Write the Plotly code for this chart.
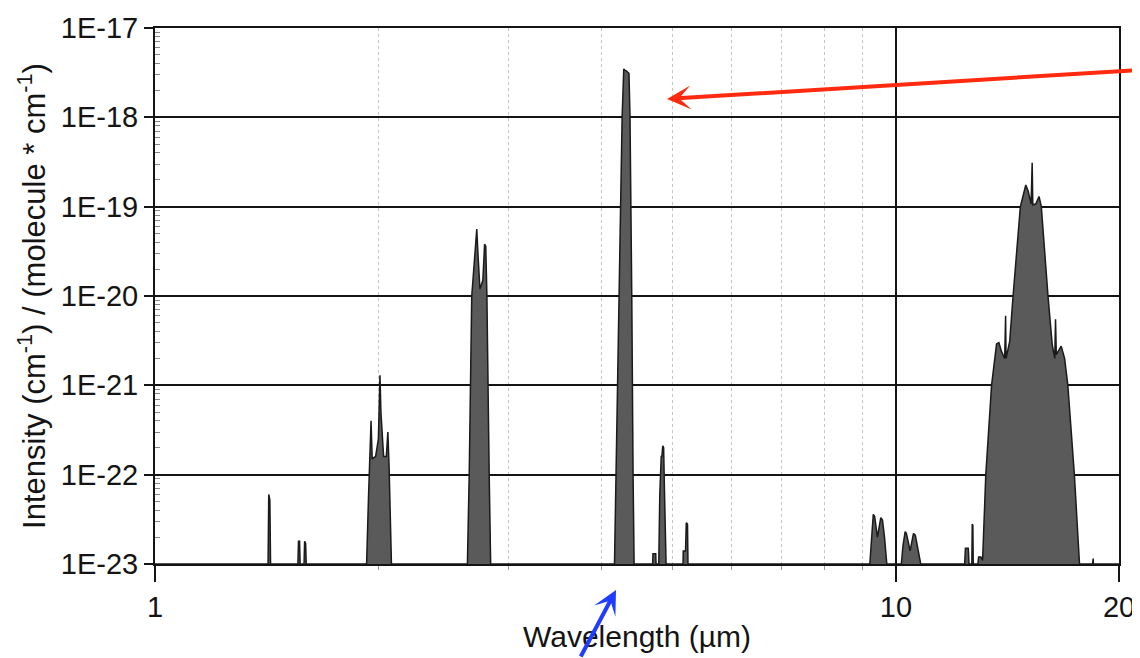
import plotly.graph_objects as go
import math

# ---------------- data (wavelength in µm, line intensity) ----------------
b143_wl = [1.421, 1.424, 1.429, 1.432]
b143_int = [1e-23, 6e-23, 5.2e-23, 1e-23]

b16_wl = [1.559, 1.562, 1.567, 1.570, 1.589, 1.592, 1.597, 1.600]
b16_int = [1e-23, 1.8e-23, 1.8e-23, 1e-23, 1e-23, 1.8e-23, 1.7e-23, 1e-23]

b20_wl = [1.930, 1.942, 1.950, 1.957, 1.964, 1.985, 2.002, 2.008, 2.012, 2.018,
          2.035, 2.052, 2.062, 2.070, 2.078, 2.085]
b20_int = [1e-23, 6e-23, 1.5e-22, 4e-22, 1.5e-22, 1.6e-22, 2.5e-22, 7e-22, 1.3e-21, 5e-22,
           1.6e-22, 1.6e-22, 3e-22, 1.2e-22, 4e-23, 1e-23]

b27_wl = [2.640, 2.655, 2.676, 2.705, 2.718, 2.728, 2.745, 2.770, 2.785, 2.795, 2.805, 2.825, 2.838]
b27_int = [1e-23, 1e-22, 1e-20, 4e-20, 5.6e-20, 3e-20, 1.2e-20, 1.5e-20, 3.8e-20, 3.6e-20, 1e-20, 1e-22, 1e-23]

b43_wl = [4.170, 4.190, 4.230, 4.244, 4.270, 4.292, 4.300, 4.330, 4.362, 4.376, 4.390, 4.400, 4.418, 4.432]
b43_int = [1e-23, 1e-22, 1e-20, 1e-19, 1e-18, 3.5e-18, 3.4e-18, 3.3e-18, 3.1e-18, 1e-18, 1e-19, 1e-20, 1e-22, 1e-23]

b47_wl = [4.695, 4.700, 4.740, 4.745]
b47_int = [1e-23, 1.3e-23, 1.3e-23, 1e-23]

b48_wl = [4.785, 4.800, 4.822, 4.832, 4.845, 4.858, 4.870, 4.895]
b48_int = [1e-23, 6e-23, 1.6e-22, 1.6e-22, 2.1e-22, 2e-22, 7e-23, 1e-23]

b52_wl = [5.160, 5.163, 5.200, 5.212, 5.232, 5.240]
b52_int = [1e-23, 1.4e-23, 1.4e-23, 2.9e-23, 2.8e-23, 1e-23]

b94_wl = [9.22, 9.27, 9.32, 9.36, 9.44, 9.54, 9.59, 9.65, 9.72]
b94_int = [1e-23, 2e-23, 3.6e-23, 3.4e-23, 2e-23, 3.3e-23, 3.1e-23, 2e-23, 1e-23]

b104_wl = [10.17, 10.22, 10.29, 10.33, 10.45, 10.56, 10.62, 10.70, 10.80]
b104_int = [1e-23, 1.6e-23, 2.3e-23, 2.2e-23, 1.4e-23, 2.2e-23, 2.1e-23, 1.5e-23, 1e-23]

b124_wl = [12.38, 12.41, 12.52, 12.55, 12.66, 12.675, 12.70, 12.715]
b124_int = [1e-23, 1.5e-23, 1.5e-23, 1e-23, 1e-23, 2.8e-23, 2.7e-23, 1e-23]

b15_wl = [12.90, 12.93, 13.02, 13.09, 13.22, 13.46, 13.67, 13.77, 13.88, 14.02, 14.06, 14.08,
          14.24, 14.39, 14.72, 14.97, 15.08, 15.22, 15.27, 15.30, 15.44, 15.60, 15.71, 16.04,
          16.25, 16.38, 16.42, 16.46, 16.71, 16.89, 17.06, 17.41, 17.69]
b15_int = [1e-23, 1.2e-23, 1.2e-23, 1.1e-23, 1e-22, 1e-21, 2.9e-21, 3e-21, 2.4e-21, 2e-21, 6e-21, 2e-21,
           3.1e-21, 1e-20, 1e-19, 1.75e-19, 1.5e-19, 1.07e-19, 3.1e-19, 1.05e-19, 1.07e-19, 1.3e-19, 1e-19, 1e-20,
           2.9e-21, 2e-21, 5.5e-21, 2.2e-21, 2.75e-21, 2e-21, 1e-21, 1e-22, 1e-23]

b184_wl = [18.42, 18.43, 18.46, 18.47]
b184_int = [1e-23, 1.15e-23, 1.15e-23, 1e-23]

x_tick_vals = [1, 10, 20]
x_tick_text = ["1", "10", "20"]
x_minor_vals = [2, 3, 4, 5, 6, 7, 8, 9]
y_tick_vals = [1e-23, 1e-22, 1e-21, 1e-20, 1e-19, 1e-18, 1e-17]
y_tick_text = ["1E-23", "1E-22", "1E-21", "1E-20", "1E-19", "1E-18", "1E-17"]

# ---------------- build spectrum ----------------
bands_wl = [b143_wl, b16_wl, b20_wl, b27_wl, b43_wl, b47_wl, b48_wl, b52_wl,
            b94_wl, b104_wl, b124_wl, b15_wl, b184_wl]
bands_int = [b143_int, b16_int, b20_int, b27_int, b43_int, b47_int, b48_int, b52_int,
             b94_int, b104_int, b124_int, b15_int, b184_int]
wl = [1.0]
inten = [1e-23]
for w, v in zip(bands_wl, bands_int):
    wl += w
    inten += v
wl.append(20.0)
inten.append(1e-23)

FONT = "Liberation Sans, Arial, Helvetica, sans-serif"
INK = "#141414"

fig = go.Figure()
fig.add_trace(go.Scatter(
    x=wl, y=inten, mode="lines", fill="toself", fillcolor="#5a5a5a",
    line=dict(color="#1a1a1a", width=1.5), hoverinfo="skip", showlegend=False,
))

# page body has an 8px margin: work in screen pixels and compensate
OFF = 8
SW, SH = 1140, 658
W, H = SW - OFF, SH - OFF
PL, PR, PT, PB = 155, 1119, 28, 564      # plot area in screen pixels
L = PL - OFF
T = PT - OFF
R = W - (PR - OFF)
B = H - (PB - OFF)
pw, ph = PR - PL, PB - PT

def px(x, y):
    return (x - PL) / pw, (PB - y) / ph

rx, ry = px(667, 99)
bx, by = px(616, 590)

fig.update_layout(
    template="none",
    width=W, height=H,
    margin=dict(l=L, r=R, t=T, b=B),
    paper_bgcolor="white", plot_bgcolor="white",
    font=dict(family=FONT, color=INK),
    xaxis=dict(
        type="log", range=[0, math.log10(20)],
        tickmode="array", tickvals=x_tick_vals, ticktext=x_tick_text,
        ticks="outside", ticklen=16, tickwidth=1.5, tickcolor=INK,
        tickfont=dict(size=29, family=FONT, color=INK),
        showgrid=True, gridcolor=INK, gridwidth=1.5,
        showline=True, linecolor=INK, linewidth=2, mirror=True,
        zeroline=False,
        minor=dict(tickmode="array", tickvals=x_minor_vals, ticks="outside", ticklen=4,
                   tickcolor="#999999", tickwidth=1,
                   showgrid=True, gridcolor="#c4c4c4", griddash="dot", gridwidth=1),
        title=dict(text="Wavelength (µm)", font=dict(size=30, family=FONT, color=INK), standoff=4),
    ),
    yaxis=dict(
        type="log", range=[-23, -17],
        tickmode="array", tickvals=y_tick_vals, ticktext=y_tick_text,
        ticks="outside", ticklen=9, tickwidth=1.5, tickcolor=INK,
        tickfont=dict(size=29, family=FONT, color=INK),
        showgrid=True, gridcolor=INK, gridwidth=1.5,
        showline=True, linecolor=INK, linewidth=2, mirror=True,
        zeroline=False,
        minor=dict(tickmode="array",
                   tickvals=[k * 10.0 ** e for e in range(-23, -17) for k in range(2, 10)],
                   ticks="inside", ticklen=5, tickcolor="#888888", tickwidth=1, showgrid=False),
        title=dict(text="Intensity (cm<sup>-1</sup>) / (molecule * cm<sup>-1</sup>)",
                   font=dict(size=31, family=FONT, color=INK), standoff=6),
    ),
    annotations=[
        dict(xref="paper", yref="paper", x=rx, y=ry, ax=480, ay=-29, text="",
             showarrow=True, arrowhead=3, arrowsize=1.0, arrowwidth=4, arrowcolor="#ff2a10",
             standoff=0),
        dict(xref="paper", yref="paper", x=bx, y=by, ax=-36, ay=74, text="",
             showarrow=True, arrowhead=3, arrowsize=1.0, arrowwidth=4, arrowcolor="#1f3cff",
             standoff=0),
    ],
)

fig.write_html("out.html")
